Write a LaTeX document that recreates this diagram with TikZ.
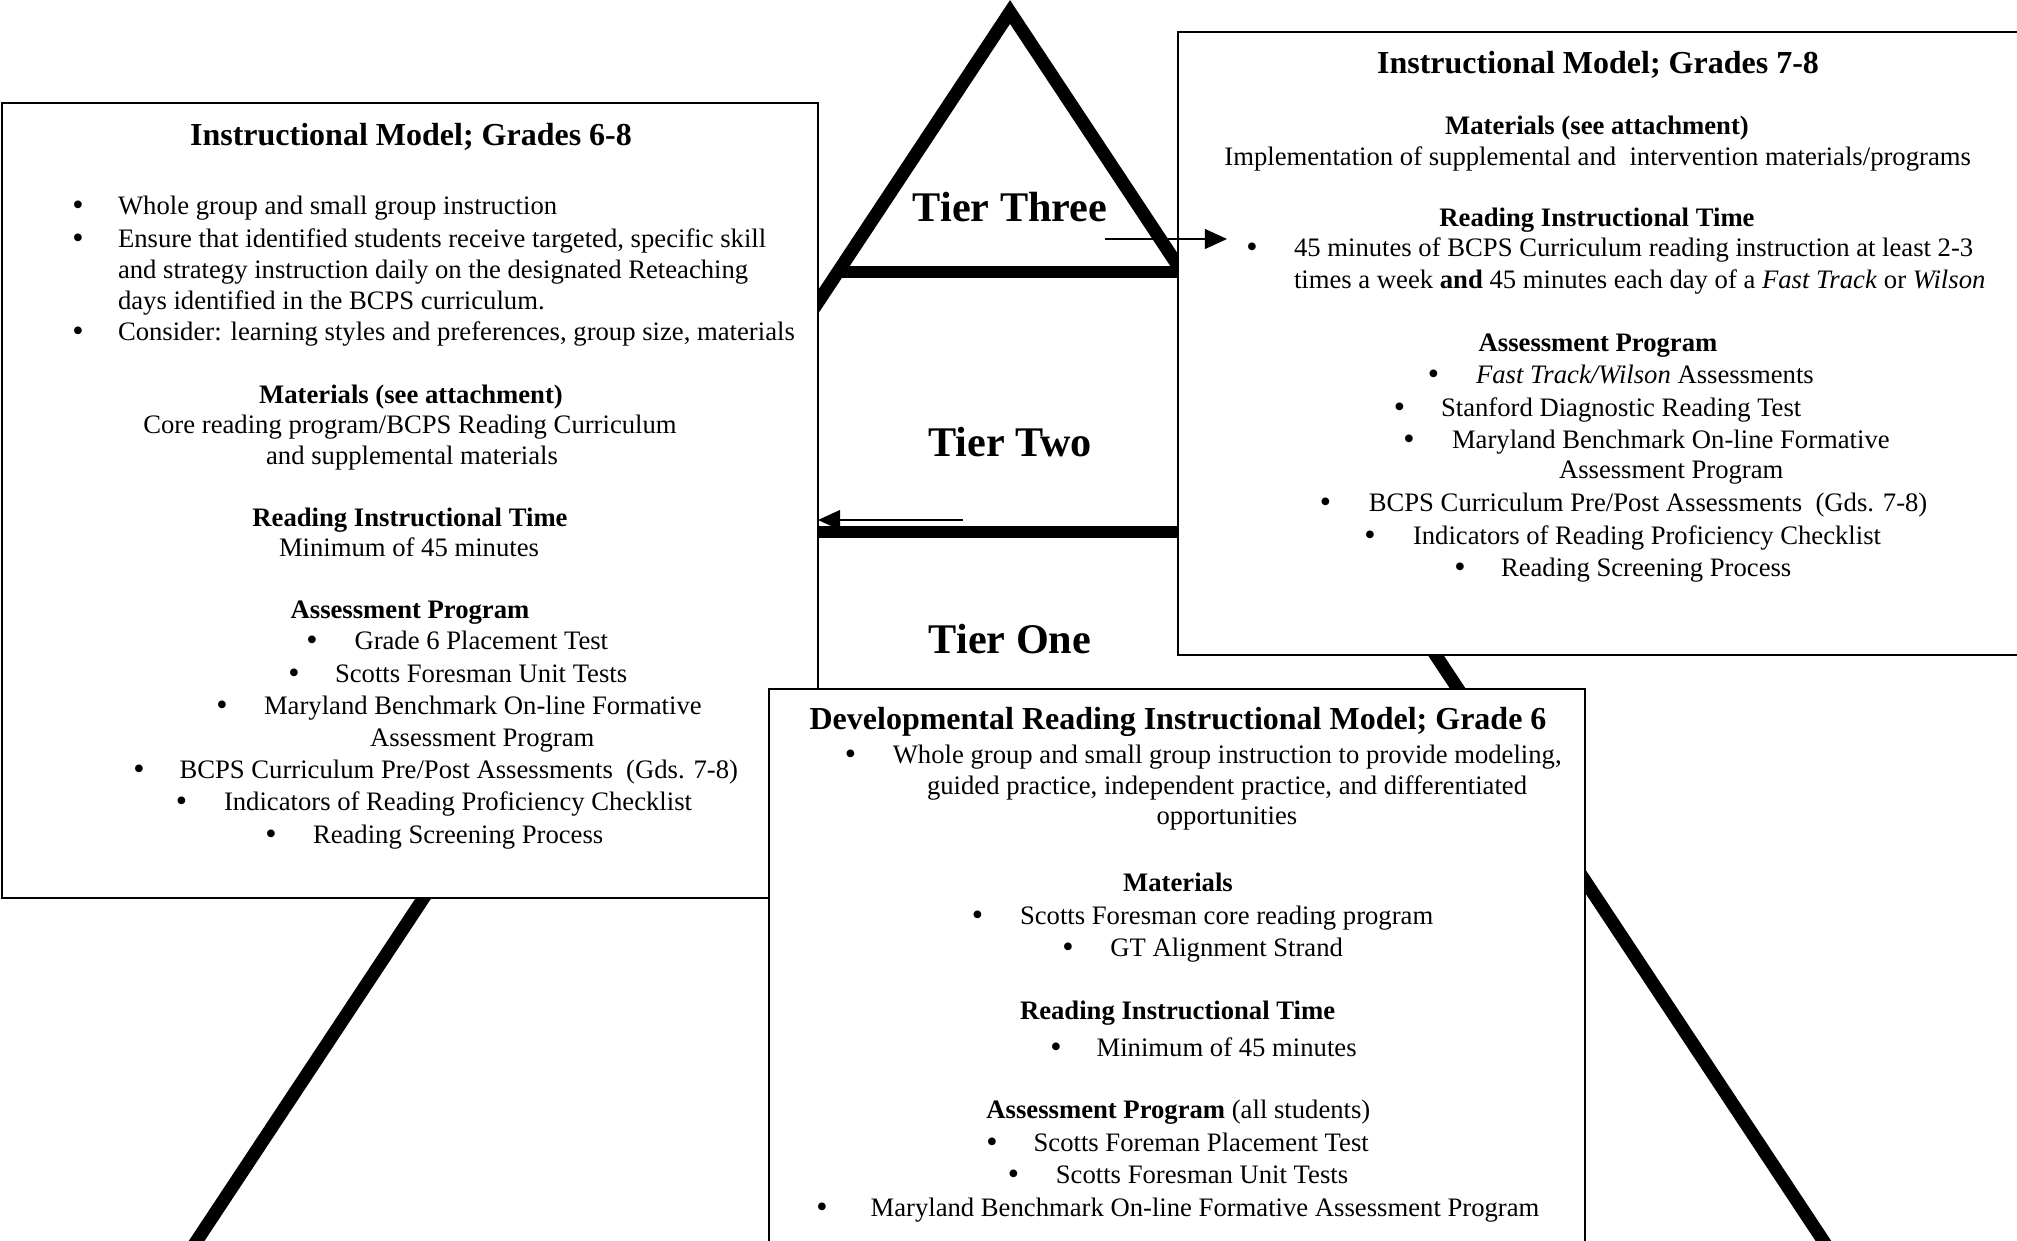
\documentclass[tikz,border=0pt]{standalone}
\usepackage{fontspec}
\setmainfont{Liberation Serif}
\usetikzlibrary{arrows.meta}
\begin{document}
\begin{tikzpicture}[x=0.45pt,y=-0.45pt,
  txt/.style={inner sep=0pt,outer sep=0pt,font=\fontsize{12}{14}\selectfont,anchor=base west,yshift=-0.8pt},
  ctr/.style={txt,anchor=base},
  bul/.style={txt,anchor=base,font=\fontsize{14.5}{14}\selectfont,yshift=-0.4pt},
  hd/.style={ctr,font=\fontsize{12}{14}\selectfont\bfseries},
  ttl/.style={inner sep=0pt,outer sep=0pt,anchor=base,yshift=-0.6pt,font=\fontsize{14.4}{16}\selectfont\bfseries},
  tier/.style={inner sep=0pt,outer sep=0pt,anchor=base,yshift=-0.6pt,font=\fontsize{19}{22}\selectfont\bfseries},
  box/.style={draw,fill=white,line width=0.6pt,inner sep=0pt,outer sep=0pt,anchor=north west},
  tri/.style={line width=5.9pt,miter limit=10},
  tierline/.style={line width=5.4pt},
  arr/.style={line width=0.6pt,-{Triangle[length=10pt,width=9pt]}}]
\useasboundingbox (0,0) rectangle (2017,1240);
\clip (0,0) rectangle (2017,1240);

% pyramid
\draw[tri] (184,1260) -- (1010,12) -- (1836,1260);
\draw[tierline] (838,272) -- (1184,272);
\draw[tierline] (660,532) -- (1360,532);

% tier labels
\node[tier] (t3) at (1010,220) {Tier Three};
\node[tier] (t2) at (1010,455) {Tier Two};
\node[tier] (t1) at (1010,651.7) {Tier One};

% left box
\node[box,minimum width=367.2pt,minimum height=357.75pt] (boxL) at (2,103) {};
\node[ttl] (lT) at (411,144) {Instructional Model; Grades 6-8};
\node[bul] (lb1) at (78,213) {•};
\node[txt] (l1) at (118,213) {Whole group and small group instruction};
\node[bul] (lb2) at (78,245.5) {•};
\node[txt] (l2) at (118,245.5) {Ensure that identified students receive targeted, specific skill};
\node[txt] (l3) at (118,276.5) {and strategy instruction daily on the designated Reteaching};
\node[txt] (l4) at (118,307.5) {days identified in the BCPS curriculum.};
\node[bul] (lb3) at (78,338.5) {•};
\node[txt] (l5) at (118,338.5) {Consider: learning styles and preferences, group size, materials};
\node[hd] (lM) at (411,401.5) {Materials (see attachment)};
\node[ctr] (l6) at (410,432) {Core reading program/BCPS Reading Curriculum};
\node[ctr] (l7) at (412,463) {and supplemental materials};
\node[hd] (lR) at (410,525) {Reading Instructional Time};
\node[ctr] (l8) at (409,554.5) {Minimum of 45 minutes};
\node[hd] (lA) at (410,617) {Assessment Program};
\node[bul] (lb4) at (312,648) {•};
\node[txt] (l9) at (354.5,648) {Grade 6 Placement Test};
\node[bul] (lb5) at (294,681) {•};
\node[txt] (l10) at (335,681) {Scotts Foresman Unit Tests};
\node[bul] (lb6) at (222,713) {•};
\node[txt] (l11) at (264,713) {Maryland Benchmark On-line Formative};
\node[txt] (l12) at (370,745) {Assessment Program};
\node[bul] (lb7) at (139,777) {•};
\node[txt] (l13) at (179.5,777) {BCPS Curriculum Pre/Post Assessments\ \ (Gds. 7-8)};
\node[bul] (lb8) at (181.5,809) {•};
\node[txt] (l14) at (224,809) {Indicators of Reading Proficiency Checklist};
\node[bul] (lb9) at (271,841.5) {•};
\node[txt] (l15) at (313,841.5) {Reading Screening Process};

% right box
\node[box,minimum width=383.4pt,minimum height=280.35pt] (boxR) at (1178,32) {};
\node[ttl] (rT) at (1598,71.7) {Instructional Model; Grades 7-8};
\node[hd] (rM) at (1597,133) {Materials (see attachment)};
\node[ctr] (r1) at (1597.6,163.3) {Implementation of supplemental and\ \ intervention materials/programs};
\node[hd] (rR) at (1597,225) {Reading Instructional Time};
\node[bul] (rb1) at (1252,255) {•};
\node[txt] (r2) at (1294,255) {45 minutes of BCPS Curriculum reading instruction at least 2-3};
\node[txt] (r3) at (1294,286.7) {times a week \textbf{and} 45 minutes each day of a \textit{Fast Track} or \textit{Wilson}};
\node[hd] (rA) at (1598,350) {Assessment Program};
\node[bul] (rb2) at (1433.6,381.7) {•};
\node[txt] (r4) at (1476,381.7) {\textit{Fast Track/Wilson} Assessments};
\node[bul] (rb3) at (1399.6,415) {•};
\node[txt] (r5) at (1441,415) {Stanford Diagnostic Reading Test};
\node[bul] (rb4) at (1409,446.7) {•};
\node[txt] (r6) at (1452,446.7) {Maryland Benchmark On-line Formative};
\node[txt] (r7) at (1559,477) {Assessment Program};
\node[bul] (rb5) at (1325.6,510) {•};
\node[txt] (r8) at (1368.8,510) {BCPS Curriculum Pre/Post Assessments\ \ (Gds. 7-8)};
\node[bul] (rb6) at (1370,542.7) {•};
\node[txt] (r9) at (1413,542.7) {Indicators of Reading Proficiency Checklist};
\node[bul] (rb7) at (1460,575) {•};
\node[txt] (r10) at (1501,575) {Reading Screening Process};

% bottom box
\node[box,minimum width=367.2pt,minimum height=256.95pt] (boxD) at (769,689) {};
\node[ttl] (dT) at (1178,728.3) {Developmental Reading Instructional Model; Grade 6};
\node[bul] (db1) at (850.5,761.7) {•};
\node[txt] (d1) at (892.8,761.7) {Whole group and small group instruction to provide modeling,};
\node[txt] (d2) at (927,793) {guided practice, independent practice, and differentiated};
\node[txt] (d3) at (1156.5,823) {opportunities};
\node[hd] (dM) at (1178,890) {Materials};
\node[bul] (db2) at (977.5,923) {•};
\node[txt] (d4) at (1020,923) {Scotts Foresman core reading program};
\node[bul] (db3) at (1068,955) {•};
\node[txt] (d5) at (1110.4,955) {GT Alignment Strand};
\node[hd] (dR) at (1177.6,1018) {Reading Instructional Time};
\node[bul] (db4) at (1056,1055) {•};
\node[txt] (d6) at (1096.6,1055) {Minimum of 45 minutes};
\node[ctr] (dA) at (1178.4,1116.7) {\textbf{Assessment Program} (all students)};
\node[bul] (db5) at (992,1150) {•};
\node[txt] (d7) at (1033.6,1150) {Scotts Foreman Placement Test};
\node[bul] (db6) at (1013.5,1181.7) {•};
\node[txt] (d8) at (1055.9,1181.7) {Scotts Foresman Unit Tests};
\node[bul] (db7) at (821.9,1215) {•};
\node[txt] (d9) at (870.6,1215) {Maryland Benchmark On-line Formative Assessment Program};

% arrows
\coordinate (a3s) at (1105,239);
\coordinate (a3e) at (1227,239);
\draw[arr] (a3s) -- (a3e);
\coordinate (a2s) at (963,520);
\draw[arr] (a2s) -- (a2s -| boxL.east);
\end{tikzpicture}
\end{document}
